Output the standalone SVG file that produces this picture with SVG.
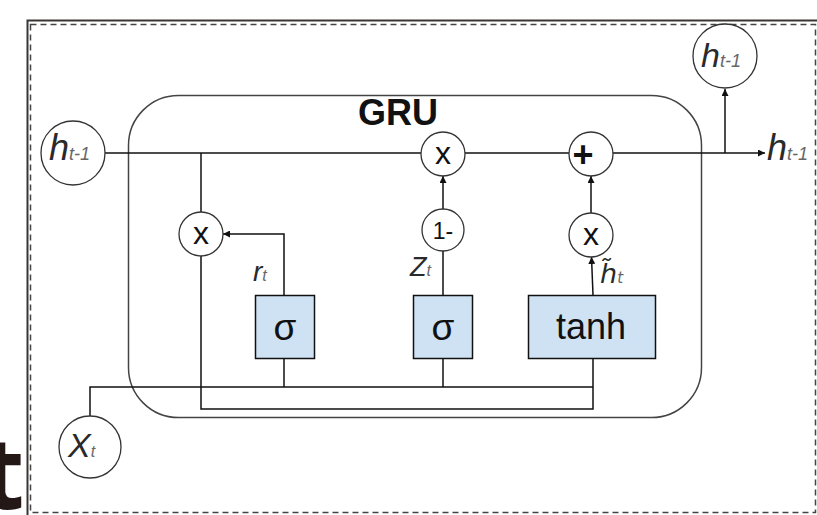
<svg xmlns="http://www.w3.org/2000/svg" width="817" height="515" viewBox="0 0 817 515">
<defs>
<marker id="arr" markerUnits="userSpaceOnUse" markerWidth="8" markerHeight="7" refX="7" refY="3.5" orient="auto">
<path d="M0,0 L7,3.5 L0,7 z" fill="#111"/>
</marker>
<style>
.ln{fill:none;stroke:#111;stroke-width:1.5}
.ar{fill:none;stroke:#111;stroke-width:1.5;marker-end:url(#arr)}
.cir{fill:#fff;stroke:#333;stroke-width:1.3}
.box{fill:#cfe2f3;stroke:#111;stroke-width:1.5}
.op{font-family:"Liberation Sans",Arial,sans-serif;fill:#111;text-anchor:middle}
.lab{font-family:"Liberation Sans",Arial,sans-serif;font-style:italic;fill:#2a2a2a}
.sub{fill:#666}
</style>
</defs>
<rect width="817" height="515" fill="#fff"/>
<text x="-19" y="509" font-family="Noto Sans, DejaVu Sans, sans-serif" font-size="100" font-weight="bold" fill="#231815">t</text>
<path d="M27.5 515 V20.5 H817" fill="none" stroke="#3a3535" stroke-width="2"/>
<rect x="30.5" y="24.5" width="785" height="488" fill="none" stroke="#444" stroke-width="1.5" stroke-dasharray="6,4"/>
<g id="gru-cell">
<rect x="128.5" y="95.5" width="573" height="322" rx="50" ry="50" fill="none" stroke="#444" stroke-width="1.5"/>
<text x="398" y="125" class="op" font-size="36" font-weight="bold">GRU</text>
</g>
<g id="connectors">
<path class="ar" d="M105 153 H765"/>
<path class="ln" d="M201 153 V212"/>
<path class="ln" d="M201 256 V409 H593 V358"/>
<path class="ln" d="M90 416 V387 H593"/>
<path class="ln" d="M284 358 V387"/>
<path class="ln" d="M443 358 V387"/>
<path class="ar" d="M284 295 V234 H223"/>
<path class="ln" d="M443 295 V251"/>
<path class="ar" d="M443 209 V176"/>
<path class="ar" d="M593 295 L591.5 257"/>
<path class="ar" d="M591 213 V176"/>
<path class="ar" d="M725 153 V89"/>
</g>
<g id="h-prev">
<circle class="cir" cx="73" cy="153" r="32"/>
<text class="lab" x="49" y="160" font-size="36">h<tspan class="sub" font-size="18">t-1</tspan></text>
</g>
<g id="h-out-top">
<circle class="cir" cx="725" cy="56" r="32"/>
<text class="lab" x="701" y="67" font-size="34">h<tspan class="sub" font-size="18">t-1</tspan></text>
</g>
<g id="h-out-label">
<text class="lab" x="767" y="160" font-size="36">h<tspan class="sub" font-size="18">t-1</tspan></text>
</g>
<g id="x-input">
<circle class="cir" cx="90" cy="447" r="31"/>
<text class="lab" x="68" y="457" font-size="34">X<tspan class="sub" font-size="16">t</tspan></text>
</g>
<g id="mul-r">
<circle class="cir" cx="201" cy="234" r="22"/>
<text class="op" x="201" y="244" font-size="32">x</text>
</g>
<g id="mul-z">
<circle class="cir" cx="443" cy="154" r="22"/>
<text class="op" x="443" y="164" font-size="32">x</text>
</g>
<g id="one-minus">
<circle class="cir" cx="443" cy="230" r="21"/>
<text class="op" x="443" y="239" font-size="23">1-</text>
</g>
<g id="plus">
<circle class="cir" cx="591" cy="154" r="22"/>
<text class="op" x="583" y="167" font-size="36" font-weight="bold">+</text>
</g>
<g id="mul-h">
<circle class="cir" cx="591" cy="235" r="22"/>
<text class="op" x="591" y="245" font-size="32">x</text>
</g>
<g id="sigma-r">
<rect class="box" x="255.5" y="295.5" width="59" height="63"/>
<text class="op" x="285" y="340" font-size="37">σ</text>
</g>
<g id="sigma-z">
<rect class="box" x="413.5" y="295.5" width="59" height="63"/>
<text class="op" x="443" y="340" font-size="37">σ</text>
</g>
<g id="tanh">
<rect class="box" x="528.5" y="295.5" width="127" height="63"/>
<text class="op" x="591" y="339" font-size="36">tanh</text>
</g>
<g id="labels">
<text class="lab" x="253" y="281" font-size="28">r<tspan class="sub" font-size="16">t</tspan></text>
<text class="lab" x="410" y="276" font-size="27">Z<tspan class="sub" font-size="16">t</tspan></text>
<text x="600" y="283" font-family="DejaVu Sans, sans-serif" font-style="italic" font-size="27" fill="#2a2a2a">h̃<tspan class="sub" font-size="15">t</tspan></text>
</g>
</svg>
